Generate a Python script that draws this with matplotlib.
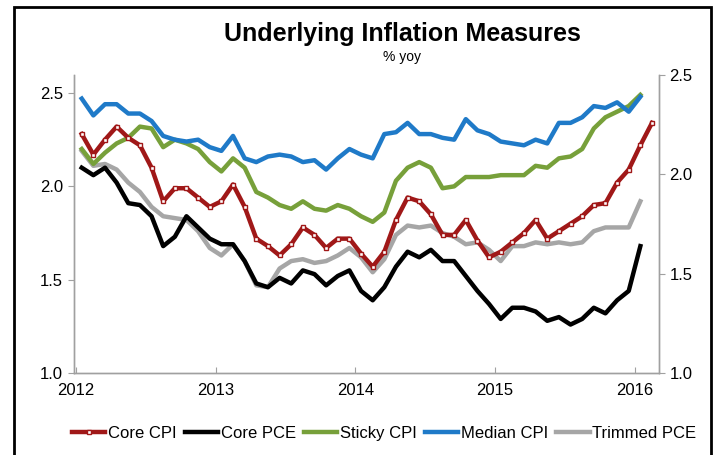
import matplotlib.pyplot as plt
from matplotlib.patches import Rectangle

plt.rcParams['font.family'] = ['Liberation Sans', 'DejaVu Sans']
plt.rcParams['lines.solid_joinstyle'] = 'round'

# monthly, Jan 2012 onward (% yoy)
core_cpi = [2.28, 2.17, 2.25, 2.32, 2.26, 2.22, 2.10, 1.92, 1.99, 1.99, 1.94, 1.89,
            1.92, 2.01, 1.89, 1.72, 1.68, 1.63, 1.69, 1.78, 1.74, 1.67, 1.72, 1.72,
            1.64, 1.57, 1.65, 1.82, 1.94, 1.92, 1.85, 1.74, 1.74, 1.82, 1.71, 1.62,
            1.65, 1.70, 1.75, 1.82, 1.72, 1.76, 1.80, 1.84, 1.90, 1.91, 2.02, 2.09,
            2.22, 2.34]
core_pce = [2.10, 2.06, 2.10, 2.02, 1.91, 1.90, 1.84, 1.68, 1.73, 1.84, 1.78, 1.72,
            1.69, 1.69, 1.60, 1.48, 1.46, 1.51, 1.48, 1.55, 1.53, 1.47, 1.52, 1.55,
            1.44, 1.39, 1.46, 1.57, 1.65, 1.62, 1.66, 1.60, 1.60, 1.52, 1.44, 1.37,
            1.29, 1.35, 1.35, 1.33, 1.28, 1.30, 1.26, 1.29, 1.35, 1.32, 1.39, 1.44,
            1.68]
sticky_cpi = [2.20, 2.12, 2.18, 2.23, 2.26, 2.32, 2.31, 2.21, 2.25, 2.23, 2.20, 2.13,
              2.08, 2.15, 2.10, 1.97, 1.94, 1.90, 1.88, 1.92, 1.88, 1.87, 1.90, 1.88,
              1.84, 1.81, 1.86, 2.03, 2.10, 2.13, 2.10, 1.99, 2.00, 2.05, 2.05, 2.05,
              2.06, 2.06, 2.06, 2.11, 2.10, 2.15, 2.16, 2.20, 2.31, 2.37, 2.40, 2.43,
              2.49]
median_cpi = [2.47, 2.38, 2.44, 2.44, 2.39, 2.39, 2.35, 2.27, 2.25, 2.24, 2.25, 2.21,
              2.19, 2.27, 2.15, 2.13, 2.16, 2.17, 2.16, 2.13, 2.14, 2.09, 2.15, 2.20,
              2.17, 2.15, 2.28, 2.29, 2.34, 2.28, 2.28, 2.26, 2.25, 2.36, 2.30, 2.28,
              2.24, 2.23, 2.22, 2.25, 2.23, 2.34, 2.34, 2.37, 2.43, 2.42, 2.45, 2.40,
              2.48]
trimmed_pce = [2.19, 2.11, 2.12, 2.09, 2.02, 1.97, 1.89, 1.84, 1.83, 1.82, 1.76, 1.67,
               1.63, 1.69, 1.60, 1.47, 1.46, 1.56, 1.60, 1.61, 1.59, 1.60, 1.63, 1.67,
               1.62, 1.54, 1.61, 1.74, 1.79, 1.78, 1.79, 1.75, 1.73, 1.69, 1.70, 1.66,
               1.60, 1.68, 1.68, 1.70, 1.69, 1.70, 1.69, 1.70, 1.76, 1.78, 1.78, 1.78,
               1.92]

years = [2012, 2013, 2014, 2015, 2016]
yticks = [1.0, 1.5, 2.0, 2.5]


def dates(vals):
    return [2012 + (i + 0.5) / 12 for i in range(len(vals))]


fig = plt.figure(figsize=(7.18, 4.55), dpi=100)
ax = fig.add_axes([0.103, 0.180, 0.815, 0.655])

ax.plot(dates(trimmed_pce), trimmed_pce, color='#a6a6a6', lw=3.2, label='Trimmed PCE')
ax.plot(dates(core_pce), core_pce, color='black', lw=3.2, label='Core PCE')
ax.plot(dates(sticky_cpi), sticky_cpi, color='#77a03a', lw=3.2, label='Sticky CPI')
ax.plot(dates(median_cpi), median_cpi, color='#1f7ac8', lw=3.2, label='Median CPI')
ax.plot(dates(core_cpi), core_cpi, color='#a01818', lw=3.2, marker='s', ms=3.5,
        mfc='white', mec='#a01818', mew=1, label='Core CPI')

ax.set_xlim(2011.986, 2016.176)
ax.set_ylim(1.0, 2.596)
ax.set_xticks(years)
ax.set_xticklabels([str(y) for y in years])
ax.set_yticks(yticks)
ax.set_yticklabels(['%.1f' % v for v in yticks])

ax2 = ax.twinx()
ax2.set_ylim(1.0, 2.5)
ax2.set_yticks(yticks)
ax2.set_yticklabels(['%.1f' % v for v in yticks])

for a in (ax, ax2):
    a.spines['top'].set_visible(False)
    for s in ('left', 'right', 'bottom'):
        a.spines[s].set_color('#a0a0a0')
        a.spines[s].set_linewidth(1)
    a.tick_params(colors='#a0a0a0', labelcolor='black', labelsize=12, length=4)
ax.tick_params(axis='x', direction='in', pad=7)
ax.tick_params(axis='y', pad=4)

fig.text(0.56, 0.925, 'Underlying Inflation Measures', ha='center', va='center',
         fontsize=18, fontweight='bold')
fig.text(0.56, 0.875, '% yoy', ha='center', va='center', fontsize=10)

h, l = ax.get_legend_handles_labels()
order = [4, 1, 2, 3, 0]
fig.legend([h[i] for i in order], [l[i] for i in order], loc='center',
           bbox_to_anchor=(0.535, 0.048), ncol=5, frameon=False, fontsize=12,
           handlelength=2.0, handletextpad=0.15, columnspacing=0.5)

fig.patches.append(Rectangle((14 / 718, -0.05), (711 - 14) / 718, 1.05 - 7 / 455,
                             transform=fig.transFigure, fill=False, ec='black', lw=2))

fig.savefig('out.png', dpi=100)
